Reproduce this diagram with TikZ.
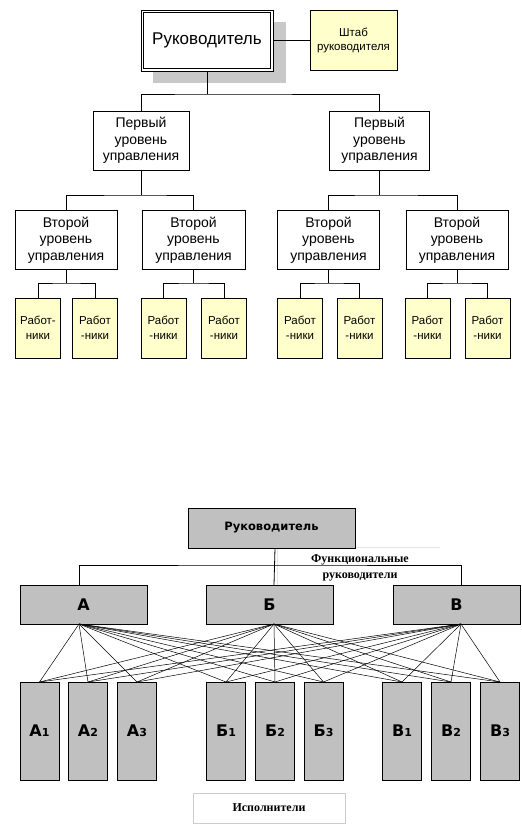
\documentclass[tikz,border=0pt]{standalone}
\usepackage{fontspec}
\setmainfont{Liberation Sans}
\newfontfamily\heavy{DejaVu Sans}
\newfontfamily\tms{Liberation Serif}
\usetikzlibrary{calc}
\definecolor{pale}{RGB}{255,255,204}
\definecolor{boxgray}{RGB}{192,192,192}
\definecolor{shadowgray}{RGB}{200,200,200}
\begin{document}
\begin{tikzpicture}[x=1pt,y=-1pt,
  every node/.style={inner sep=0pt, outer sep=0pt},
  conn/.style={draw=black, line width=0.8pt},
  thinconn/.style={draw=black, line width=0.5pt},
  bossbox/.style={draw=black, fill=white, line width=0.8pt,
     minimum width=132pt, minimum height=61pt, font=\fontsize{17}{20}\selectfont},
  staffbox/.style={draw=black, fill=pale, line width=0.8pt, align=center,
     minimum width=87pt, minimum height=60pt, font=\fontsize{11.5}{14}\selectfont},
  lvlbox/.style={draw=black, fill=white, line width=0.8pt, align=center,
     minimum height=59pt, font=\fontsize{14}{16.5}\selectfont},
  wbox/.style={draw=black, fill=pale, line width=0.8pt, align=center,
     minimum width=45pt, minimum height=60pt, font=\fontsize{11.5}{15}\selectfont},
  graybox/.style={draw=black, fill=boxgray, line width=0.8pt, align=center},
  topgray/.style={graybox, minimum width=127pt, minimum height=39pt, font=\heavy\bfseries\fontsize{16}{18}\selectfont},
  execbox/.style={graybox, minimum width=39pt, minimum height=98pt, font=\heavy\bfseries\fontsize{16}{18}\selectfont},
  labeltext/.style={align=center, font=\tms\bfseries\fontsize{12}{16.5}\selectfont},
]
\useasboundingbox (0,0) rectangle (522,825);

% ---------- top chart ----------
\fill[shadowgray] (153,22) rectangle (286,83);
\node[bossbox] (boss) at (207,40.5) {Руководитель};
\draw[line width=0.8pt] ([xshift=2.6pt,yshift=-2.6pt]boss.north west) rectangle ([xshift=-2.6pt,yshift=2.6pt]boss.south east);
\node[staffbox] (staff) at (353.5,40) {Штаб\\руководителя};
\draw[conn] (boss.east) -- (boss.east -| staff.west);

\node[lvlbox, minimum width=96pt] (l1a) at (141,140.5) {Первый\\уровень\\управления};
\node[lvlbox, minimum width=100pt] (l1b) at (379.5,140.5) {Первый\\уровень\\управления};
\coordinate (bus0) at (207,94);
\draw[conn] (boss.south) -- (bus0);
\draw[conn] (l1a.north) |- (bus0) -| (l1b.north);

\node[lvlbox, minimum width=102pt] (l2a) at (66,240) {Второй\\уровень\\управления};
\node[lvlbox, minimum width=103pt] (l2b) at (193.5,240) {Второй\\уровень\\управления};
\node[lvlbox, minimum width=102pt] (l2c) at (328.5,240) {Второй\\уровень\\управления};
\node[lvlbox, minimum width=102pt] (l2d) at (457,240) {Второй\\уровень\\управления};
\coordinate (bus1) at (141,195);
\coordinate (bus2) at (379.5,195);
\draw[conn] (l1a.south) -- (bus1);
\draw[conn] (l2a.north) |- (bus1) -| (l2b.north);
\draw[conn] (l1b.south) -- (bus2);
\draw[conn] (l2c.north) |- (bus2) -| (l2d.north);

\node[wbox] (w1) at (38,328) {Работ-\\ники};
\node[wbox] (w2) at (95,328) {Работ\\-ники};
\node[wbox] (w3) at (163.5,328) {Работ\\-ники};
\node[wbox] (w4) at (224,328) {Работ\\-ники};
\node[wbox] (w5) at (300,328) {Работ\\-ники};
\node[wbox] (w6) at (359.5,328) {Работ\\-ники};
\node[wbox] (w7) at (427.5,328) {Работ\\-ники};
\node[wbox] (w8) at (487.5,328) {Работ\\-ники};
\coordinate (bw1) at (66,283);
\coordinate (bw2) at (193.5,283);
\coordinate (bw3) at (328.5,283);
\coordinate (bw4) at (457,283);
\draw[conn] (l2a.south) -- (bw1);
\draw[conn] (w1.north) |- (bw1) -| (w2.north);
\draw[conn] (l2b.south) -- (bw2);
\draw[conn] (w3.north) |- (bw2) -| (w4.north);
\draw[conn] (l2c.south) -- (bw3);
\draw[conn] (w5.north) |- (bw3) -| (w6.north);
\draw[conn] (l2d.south) -- (bw4);
\draw[conn] (w7.north) |- (bw4) -| (w8.north);

% ---------- bottom chart ----------
\draw[gray!20, line width=0.6pt] (277,590) -- (277,547) -- (440,547);
\node[labeltext] (func) at (360,568) {Функциональные\\руководители};

\node[graybox, minimum width=167pt, minimum height=40pt, font=\heavy\bfseries\fontsize{11.5}{13}\selectfont] (boss2) at (271.5,528) {Руководитель};
\node[topgray] (A) at (83.5,604.5) {А};
\node[topgray] (B) at (269.5,604.5) {Б};
\node[topgray] (V) at (456.5,604.5) {В};

\coordinate (hb) at (275,565);
\draw[conn] ([xshift=3.5pt]boss2.south) -- ([xshift=4.5pt]B.north);
\draw[conn] ([xshift=-4.5pt]A.north) |- (hb) -| ([xshift=4.5pt]V.north);

\newcommand{\exlab}[2]{#1{\fontsize{11}{12}\selectfont #2}}
\node[execbox] (a1) at (39.5,731) {\exlab{А}{1}};
\node[execbox] (a2) at (88,731) {\exlab{А}{2}};
\node[execbox] (a3) at (137,731) {\exlab{А}{3}};
\node[execbox] (b1) at (226,731) {\exlab{Б}{1}};
\node[execbox] (b2) at (275,731) {\exlab{Б}{2}};
\node[execbox] (b3) at (323.5,731) {\exlab{Б}{3}};
\node[execbox] (v1) at (402,731) {\exlab{В}{1}};
\node[execbox] (v2) at (451,731) {\exlab{В}{2}};
\node[execbox] (v3) at (500,731) {\exlab{В}{3}};

\foreach \t in {a1,a2,a3,b1,b2,b3,v1,v2,v3}{
  \draw[thinconn] ([xshift=-4.5pt]A.south) -- (\t.north);
  \draw[thinconn] ([xshift=4.5pt]B.south) -- (\t.north);
  \draw[thinconn] ([xshift=4.5pt]V.south) -- (\t.north);
}

\node[draw=gray!40, line width=0.6pt, minimum width=152pt, minimum height=30pt, font=\tms\bfseries\fontsize{12}{14}\selectfont] (exec) at (269,808) {Исполнители};
\end{tikzpicture}
\end{document}
